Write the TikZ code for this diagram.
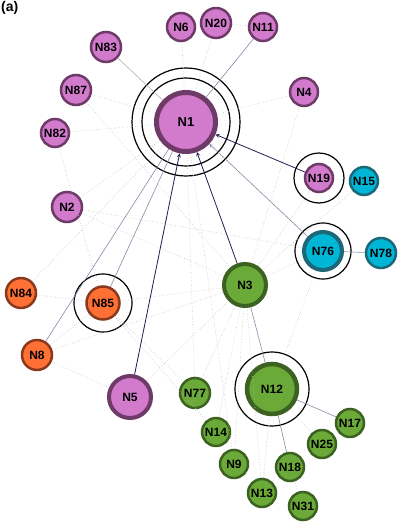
\documentclass[tikz,border=0pt]{standalone}
\usepackage{fontspec}
\setmainfont{Liberation Sans}
\definecolor{pinkfill}{HTML}{D27ACC}
\definecolor{pinkline}{HTML}{6E3A68}
\definecolor{orangefill}{HTML}{FF7035}
\definecolor{orangeline}{HTML}{8A3A1C}
\definecolor{greenfill}{HTML}{6BAA38}
\definecolor{greenline}{HTML}{3B6220}
\definecolor{cyanfill}{HTML}{00B6D6}
\definecolor{cyanline}{HTML}{1C6878}
\definecolor{navy}{HTML}{1E2050}
\definecolor{slate}{HTML}{8A88A8}
\tikzset{
  net/.style={circle, inner sep=0pt, font=\bfseries\fontsize{12}{12}\selectfont, line width=2.5pt},
  pinknode/.style={net, fill=pinkfill, draw=pinkline},
  orangenode/.style={net, fill=orangefill, draw=orangeline},
  greennode/.style={net, fill=greenfill, draw=greenline},
  cyannode/.style={net, fill=cyanfill, draw=cyanline},
  weak/.style={draw=gray!50, dotted, line width=0.6pt},
  link/.style={draw=slate, line width=0.6pt},
  strong/.style={draw=navy, line width=0.8pt, ->},
  ring/.style={draw=black, line width=1.2pt}
}
\begin{document}
\begin{tikzpicture}[x=1pt, y=-1pt, >=stealth]
    \useasboundingbox (0,0) rectangle (404,525);

    % nodes, cluster of N1
    \node[pinknode, minimum size=59pt, line width=5pt, font=\bfseries\fontsize{13}{13}\selectfont] (N1) at (186,122) {N1};
    \node[pinknode, minimum size=28pt] (N6) at (181,27) {N6};
    \node[pinknode, minimum size=30pt] (N20) at (216,23) {N20};
    \node[pinknode, minimum size=28pt] (N11) at (263,27) {N11};
    \node[pinknode, minimum size=30pt] (N83) at (106,47) {N83};
    \node[pinknode, minimum size=30pt] (N87) at (76,90) {N87};
    \node[pinknode, minimum size=28pt] (N82) at (55,133) {N82};
    \node[pinknode, minimum size=28pt] (N4) at (304,92) {N4};
    \node[pinknode, minimum size=30pt] (N2) at (67,207) {N2};
    \node[pinknode, minimum size=28pt] (N19) at (319,178) {N19};
    \node[pinknode, minimum size=42pt, line width=4pt] (N5) at (130,397) {N5};

    % cyan and orange
    \node[cyannode, minimum size=28pt] (N15) at (364,181) {N15};
    \node[cyannode, minimum size=38pt, line width=4pt] (N76) at (323,251) {N76};
    \node[cyannode, minimum size=30pt] (N78) at (381,253) {N78};
    \node[orangenode, minimum size=30pt] (N84) at (21,293) {N84};
    \node[orangenode, minimum size=33pt] (N85) at (103,303) {N85};
    \node[orangenode, minimum size=30pt] (N8) at (37,355) {N8};

    % green
    \node[greennode, minimum size=42pt, line width=4pt] (N3) at (245,285) {N3};
    \node[greennode, minimum size=50pt, line width=4.5pt] (N12) at (272,389) {N12};
    \node[greennode, minimum size=30pt] (N77) at (195,393) {N77};
    \node[greennode, minimum size=28pt] (N14) at (216,432) {N14};
    \node[greennode, minimum size=28pt] (N9) at (234,464) {N9};
    \node[greennode, minimum size=28pt] (N13) at (262,493) {N13};
    \node[greennode, minimum size=28pt] (N18) at (290,467) {N18};
    \node[greennode, minimum size=28pt] (N25) at (322,444) {N25};
    \node[greennode, minimum size=28pt] (N17) at (350,423) {N17};
    \node[greennode, minimum size=28pt] (N31) at (303,506) {N31};

    % rings
    \draw[ring] (N1.center) circle (54);
    \draw[ring] (N1.center) circle (44);
    \draw[ring] (N19.center) circle (25);
    \draw[ring] (N76.center) circle (28);
    \draw[ring] (N85.center) circle (29);
    \draw[ring] (N12.center) circle (37);

    % weak links
    \foreach \a/\b in {N6/N1, N20/N1, N20/N11, N4/N1, N87/N1, N82/N1, N2/N1,
        N87/N3, N2/N3, N82/N85, N84/N85, N84/N1, N85/N3, N8/N85, N8/N5,
        N8/N3, N19/N15, N15/N3, N76/N3, N76/N12, N19/N3, N5/N3, N5/N1,
        N77/N3, N77/N1, N14/N3, N9/N3, N9/N1, N13/N12, N13/N3, N25/N12,
        N31/N18, N14/N85, N77/N85, N2/N76, N4/N3}
        \draw[weak] (\a) -- (\b);

    % solid links
    \draw[link] (N11) -- (N1);
    \draw[link, draw=gray!60] (N83) -- (N1);
    \draw[link] (N85) -- (N1);
    \draw[link] (N8) -- (N1);
    \draw[link] (N76) -- (N78);
    \draw[link] (N3) -- (N12);
    \draw[link] (N12) -- (N17);
    \draw[link] (N12) -- (N18);
    \draw[link, ->] (N76) -- (N1);

    % arrows into N1
    \draw[strong] (N19) -- (N1);
    \draw[strong] (N5) -- (N1);
    \draw[strong] (N3) -- (N1);

    % panel label
    \node[font=\bfseries\fontsize{14}{14}\selectfont, anchor=north west, inner sep=1pt] (lab) at (0,0) {(a)};
\end{tikzpicture}
\end{document}
